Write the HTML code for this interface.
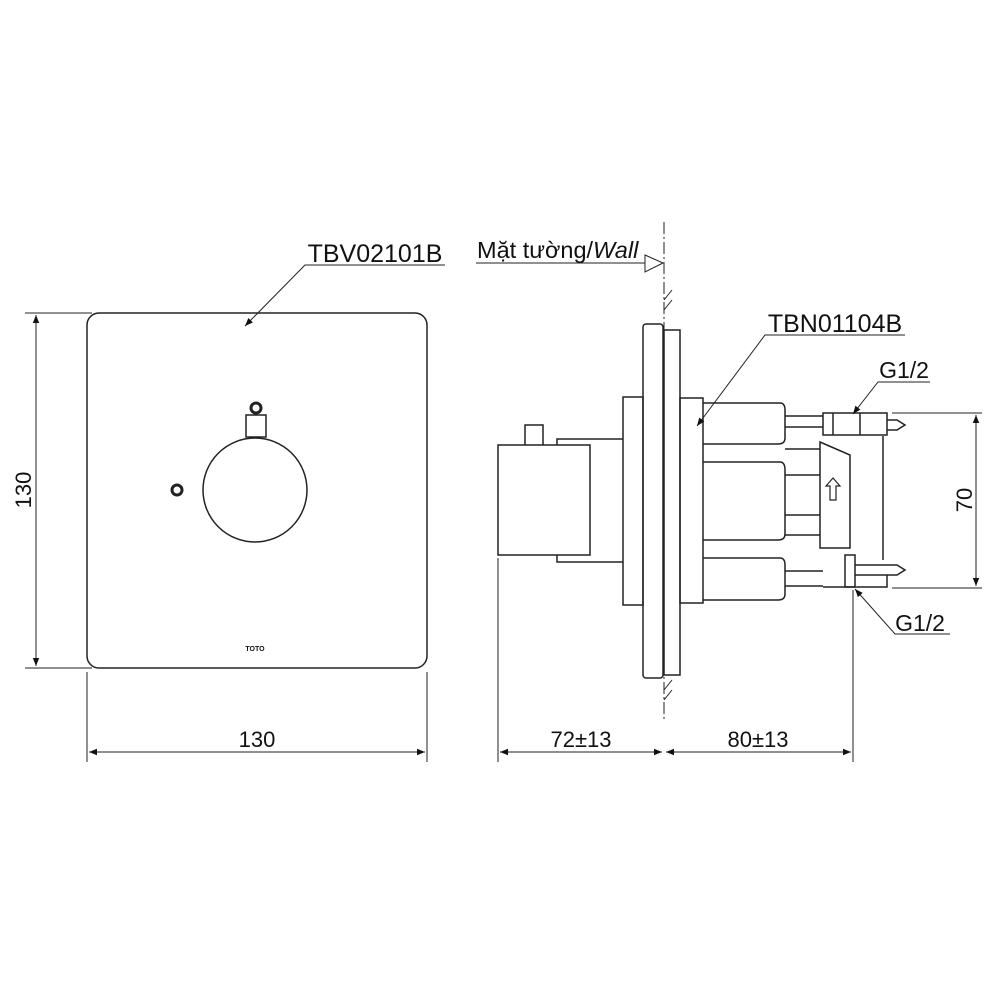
<!DOCTYPE html>
<html><head><meta charset="utf-8"><style>html,body{margin:0;padding:0;background:#fff}svg{display:block}text{font-family:"Liberation Sans",sans-serif;fill:#111}</style></head><body>
<svg width="1000" height="1000" viewBox="0 0 1000 1000" xmlns="http://www.w3.org/2000/svg">
<defs><marker id="a" viewBox="0 0 10 10" refX="10" refY="5" markerWidth="10" markerHeight="8" orient="auto-start-reverse" markerUnits="userSpaceOnUse"><path d="M0,1 L10,5 L0,9 Z" fill="#111"/></marker></defs>
<g fill="none" stroke="#222" stroke-width="1.5">
<rect x="87" y="313" width="340" height="355" rx="12"/>
<circle cx="255" cy="490" r="52"/>
<rect x="246" y="415" width="20" height="22"/>
<circle cx="256" cy="408" r="5" stroke-width="3"/>
<circle cx="177" cy="490" r="5" stroke-width="3"/>
<line x1="25" y1="313" x2="92" y2="313" stroke-width="1"/>
<line x1="25" y1="668" x2="92" y2="668" stroke-width="1"/>
<line x1="36" y1="315" x2="36" y2="666" stroke-width="1" marker-start="url(#a)" marker-end="url(#a)"/>
<line x1="87" y1="672" x2="87" y2="762" stroke-width="1"/>
<line x1="427" y1="672" x2="427" y2="762" stroke-width="1"/>
<line x1="89" y1="752" x2="425" y2="752" stroke-width="1" marker-start="url(#a)" marker-end="url(#a)"/>
<polyline points="445,265 305,265 245,326" stroke-width="1" marker-end="url(#a)"/>
<rect x="498" y="445" width="92" height="110"/>
<polyline points="525,445 525,425 543,425 543,445"/>
<path d="M557,445 V439 H623 M557,555 V562 H623"/>
<rect x="623" y="397" width="20" height="208"/>
<rect x="643" y="324" width="20" height="354" rx="3"/>
<rect x="664" y="330" width="16" height="345"/>
<rect x="680" y="398" width="23" height="205"/>
<path d="M703,403 H780 Q785,403 785,410 V438 Q785,444 778,444 H703"/>
<path d="M703,462 H780 Q785,462 785,470 V534 Q785,540 778,540 H703"/>
<path d="M703,558 H780 Q785,558 785,565 V594 Q785,600 778,600 H703"/>
<path d="M785,416 H823 M785,427 H823 M785,449 H820 M785,475 H820 M785,515 H820 M785,535 H820 M785,571 H823 M785,586 H823"/>
<rect x="823" y="413" width="64" height="22"/>
<path d="M833,413 V435 M860,413 V435 M887,420 H897 L905,425 L897,430 H887"/>
<path d="M820,442 L850,455 V548 H820 Z"/>
<path d="M826,486 L833,478 L840,486 H836 V500 H830 V486 Z" stroke-width="1.2"/>
<line x1="883" y1="436" x2="883" y2="560"/>
<rect x="845" y="555" width="10" height="32"/>
<path d="M855,565 H897 L905,570 L897,575 H855 M823,587 H887 V575"/>
<line x1="664" y1="222" x2="664" y2="720" stroke-width="1" stroke-dasharray="12,3,2,3"/>
<path d="M664,300 L672,290 M664,310 L672,300 M664,690 L672,680 M664,700 L672,690" stroke-width="1"/>
<line x1="476" y1="263" x2="645" y2="263" stroke-width="1"/>
<path d="M645,255 L663,263 L645,272 Z" stroke-width="1"/>
<polyline points="905,335 765,335 697,426" stroke-width="1" marker-end="url(#a)"/>
<polyline points="930,382 878,382 853,414" stroke-width="1" marker-end="url(#a)"/>
<polyline points="950,634 895,634 855,589" stroke-width="1" marker-end="url(#a)"/>
<line x1="892" y1="413" x2="982" y2="413" stroke-width="1"/>
<line x1="892" y1="588" x2="982" y2="588" stroke-width="1"/>
<line x1="976" y1="415" x2="976" y2="586" stroke-width="1" marker-start="url(#a)" marker-end="url(#a)"/>
<line x1="498" y1="558" x2="498" y2="762" stroke-width="1"/>
<line x1="853" y1="590" x2="853" y2="762" stroke-width="1"/>
<line x1="500" y1="752" x2="662" y2="752" stroke-width="1" marker-start="url(#a)" marker-end="url(#a)"/>
<line x1="666" y1="752" x2="851" y2="752" stroke-width="1" marker-start="url(#a)" marker-end="url(#a)"/>
</g>
<text x="255" y="651" font-size="7" font-weight="bold" text-anchor="middle" font-family="Liberation Serif">TOTO</text>
<text x="375" y="262" font-size="25" text-anchor="middle">TBV02101B</text>
<text x="257" y="747" font-size="22" text-anchor="middle">130</text>
<text transform="translate(31,490) rotate(-90)" font-size="22" text-anchor="middle">130</text>
<text x="477" y="258" font-size="23.5">Mặt tường/<tspan font-style="italic">Wall</tspan></text>
<text x="835" y="332" font-size="25" text-anchor="middle">TBN01104B</text>
<text x="904" y="378" font-size="23" text-anchor="middle">G1/2</text>
<text x="920" y="631" font-size="23" text-anchor="middle">G1/2</text>
<text transform="translate(972,500) rotate(-90)" font-size="22" text-anchor="middle">70</text>
<text x="581" y="747" font-size="22" text-anchor="middle">72±13</text>
<text x="758" y="747" font-size="22" text-anchor="middle">80±13</text>
</svg>
</body></html>
